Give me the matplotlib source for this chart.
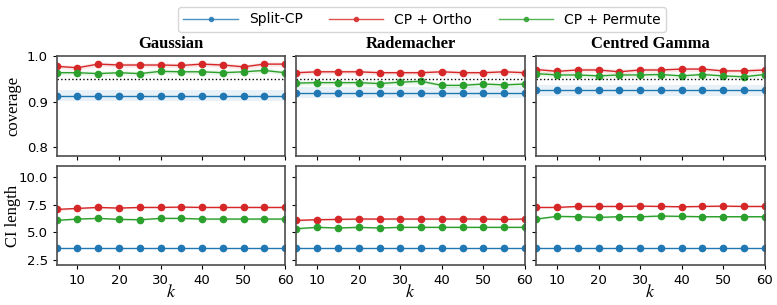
import numpy as np
import matplotlib
matplotlib.use("Agg")
import matplotlib.pyplot as plt

plt.rcParams['mathtext.fontset'] = 'stix'

k = [5, 10, 15, 20, 25, 30, 35, 40, 45, 50, 55, 60]
dists = ['Gaussian', 'Rademacher', 'Centred Gamma']
methods = ['Split-CP', 'CP + Ortho', 'CP + Permute']
colors = ['tab:blue', 'tab:red', 'tab:green']

# coverage
cov_split = {
    'Gaussian': [0.913] * 12,
    'Rademacher': [0.920] * 12,
    'Centred Gamma': [0.925] * 12,
}
cov_ortho = {
    'Gaussian': [0.978, 0.975, 0.983, 0.981, 0.981, 0.981, 0.980, 0.983, 0.981, 0.977, 0.983, 0.983],
    'Rademacher': [0.964, 0.966, 0.966, 0.966, 0.964, 0.964, 0.964, 0.966, 0.964, 0.964, 0.966, 0.964],
    'Centred Gamma': [0.971, 0.967, 0.970, 0.970, 0.966, 0.970, 0.970, 0.972, 0.972, 0.968, 0.968, 0.970],
}
cov_perm = {
    'Gaussian': [0.964, 0.964, 0.962, 0.964, 0.962, 0.967, 0.966, 0.966, 0.964, 0.966, 0.969, 0.964],
    'Rademacher': [0.941, 0.942, 0.942, 0.942, 0.940, 0.943, 0.945, 0.936, 0.936, 0.939, 0.937, 0.939],
    'Centred Gamma': [0.962, 0.959, 0.959, 0.957, 0.959, 0.959, 0.960, 0.957, 0.960, 0.957, 0.955, 0.960],
}
cov_band = [0.012, 0.005, 0.005]

# CI length
len_split = {
    'Gaussian': [3.55] * 12,
    'Rademacher': [3.55] * 12,
    'Centred Gamma': [3.55] * 12,
}
len_ortho = {
    'Gaussian': [7.06, 7.15, 7.24, 7.18, 7.24, 7.24, 7.27, 7.24, 7.24, 7.24, 7.24, 7.24],
    'Rademacher': [6.07, 6.13, 6.16, 6.19, 6.19, 6.19, 6.19, 6.19, 6.19, 6.19, 6.16, 6.19],
    'Centred Gamma': [7.24, 7.24, 7.33, 7.33, 7.33, 7.36, 7.33, 7.30, 7.33, 7.36, 7.33, 7.33],
}
len_perm = {
    'Gaussian': [6.07, 6.19, 6.25, 6.16, 6.13, 6.25, 6.25, 6.19, 6.19, 6.19, 6.19, 6.19],
    'Rademacher': [5.32, 5.44, 5.38, 5.44, 5.38, 5.44, 5.44, 5.44, 5.44, 5.44, 5.44, 5.44],
    'Centred Gamma': [6.19, 6.43, 6.40, 6.34, 6.40, 6.40, 6.46, 6.43, 6.40, 6.40, 6.40, 6.40],
}
len_band = [0.04, 0.08, 0.08]

serif = 'Liberation Serif'

fig, axes = plt.subplots(2, 3, figsize=(7.77, 3.05), dpi=100, sharex=True, sharey='row')
fig.subplots_adjust(left=0.073, right=0.984, top=0.815, bottom=0.13, wspace=0.05, hspace=0.1)

for j, d in enumerate(dists):
    ax = axes[0, j]
    for vals, c, b in zip([cov_split[d], cov_ortho[d], cov_perm[d]], colors, cov_band):
        v = np.array(vals)
        ax.fill_between(k, v - b, v + b, color=c, alpha=0.1, lw=0)
        ax.plot(k, v, color=c, marker='o', ms=4.5, lw=1)
    ax.axhline(0.95, color='k', ls=':', lw=1)
    ax.set_ylim(0.78, 1.0)
    ax.set_yticks([0.8, 0.9, 1.0])
    ax.set_title(d, fontfamily=serif, fontweight='bold', fontsize=12)

    ax = axes[1, j]
    for vals, c, b in zip([len_split[d], len_ortho[d], len_perm[d]], colors, len_band):
        v = np.array(vals)
        ax.fill_between(k, v - b, v + b, color=c, alpha=0.15, lw=0)
        ax.plot(k, v, color=c, marker='o', ms=4.5, lw=1)
    ax.set_ylim(2, 11)
    ax.set_yticks([2.5, 5.0, 7.5, 10.0])
    ax.set_xlim(5, 60)
    ax.set_xticks([10, 20, 30, 40, 50, 60])
    ax.set_xlabel('$k$', fontsize=13, labelpad=-3)

for ax in axes.flat:
    for s in ax.spines.values():
        s.set_color('0.3')
        s.set_linewidth(1.2)
    ax.tick_params(labelsize=9.5, length=3)

axes[0, 0].set_ylabel('coverage', fontfamily=serif, fontsize=12)
axes[1, 0].set_ylabel('CI length', fontfamily=serif, fontsize=12)
axes[0, 0].yaxis.set_label_coords(-0.155, 0.5)
axes[1, 0].yaxis.set_label_coords(-0.155, 0.5)

handles = [plt.Line2D([], [], color=c, marker='o', ms=3, lw=1, alpha=0.8) for c in colors]
fig.legend(handles, methods, loc='upper center', ncol=3, bbox_to_anchor=(0.543, 1.0),
           fontsize=10, handlelength=3.9, columnspacing=1.9, frameon=True)

fig.savefig('out.png')
